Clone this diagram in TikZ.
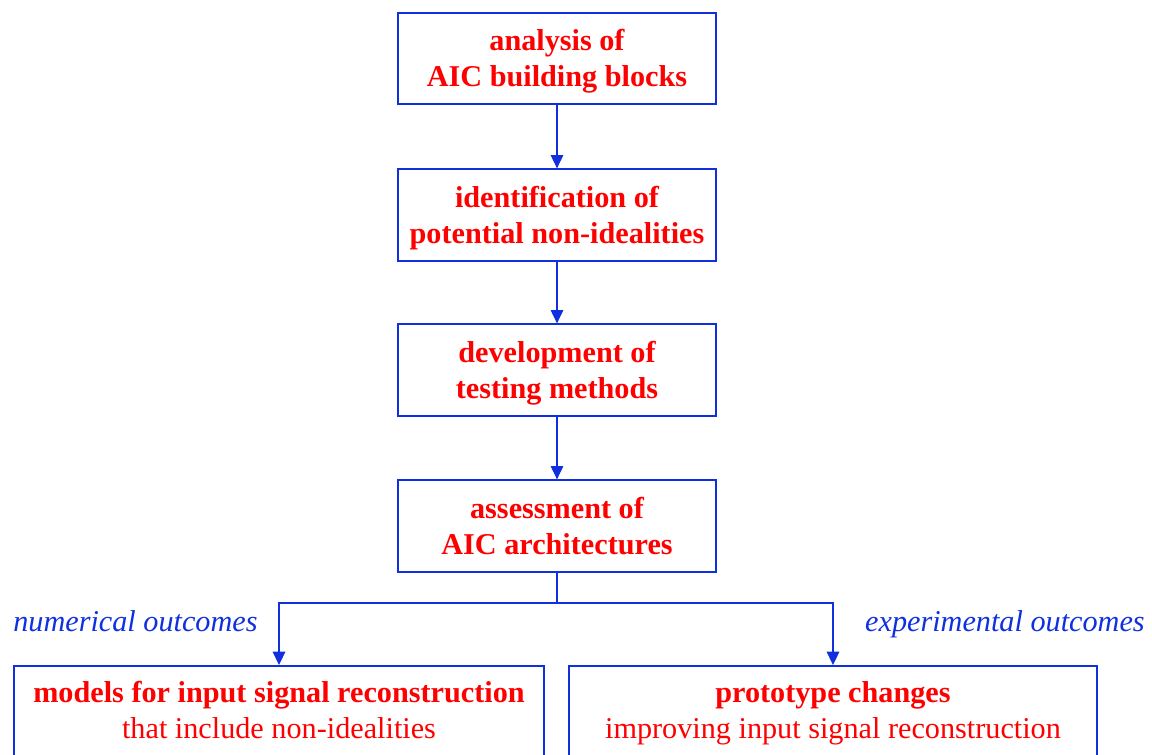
\documentclass[tikz,border=0pt]{standalone}
\usepackage{fontspec}
\setmainfont{Liberation Serif}
\usepackage{tikz}
\usetikzlibrary{arrows.meta}

\definecolor{boxblue}{RGB}{16,48,224}
\definecolor{txtred}{RGB}{255,0,0}
\newcommand\hiStrut{\rule{0pt}{15.5pt}}
\newcommand\loStrut{\rule[-4pt]{0pt}{4pt}}
\newcommand\deepStrut{\rule[-7.8pt]{0pt}{7.8pt}}

\tikzset{
    stepbox/.style={draw=boxblue, line width=1.1pt, text=txtred, align=center,
        font=\fontsize{17.2}{20.4}\selectfont\bfseries,
        minimum width=#1, minimum height=52pt, inner sep=0pt},
    flow/.style={draw=boxblue, line width=0.6pt, -{Triangle[width=7.2pt,length=7.6pt]}},
    outlabel/.style={text=boxblue, font=\fontsize{17.2}{20}\selectfont\itshape}
}

\begin{document}
\begin{tikzpicture}[x=0.02cm, y=-0.02cm]
        \useasboundingbox (0,0) rectangle (1152,754);
        % main chain
        \node[stepbox=181pt] (analysis) at (557,58.5) {\hiStrut analysis of\\AIC building blocks\loStrut};
        \node[stepbox=181pt] (ident) at (557,215) {\hiStrut identification of\\potential non-idealities\loStrut};
        \node[stepbox=181pt] (devel) at (557,370) {\hiStrut development of\\testing methods\loStrut};
        \node[stepbox=181pt] (assess) at (557,526) {\hiStrut assessment of\\AIC architectures\loStrut};
        \draw[flow] (analysis) -- (ident);
        \draw[flow] (ident) -- (devel);
        \draw[flow] (devel) -- (assess);
        % outcomes (boxes run past the lower edge)
        \node[stepbox=301.5pt, minimum height=54pt, anchor=north] (models) at (279,665)
            {\hiStrut models for input signal reconstruction\\\mdseries that include non-idealities\deepStrut};
        \node[stepbox=300.5pt, minimum height=54pt, anchor=north] (proto) at (833,665)
            {\hiStrut prototype changes\\\mdseries improving input signal reconstruction\deepStrut};
        \coordinate (split) at (557,603);
        \draw[boxblue, line width=0.6pt] (assess.south) -- (split);
        \draw[flow] (split) -| (models.north);
        \draw[flow] (split) -| (proto.north);
        \node[outlabel, anchor=base west, inner sep=0pt] (numlab) at (13,631) {numerical outcomes};
        \node[outlabel, anchor=base east, inner sep=0pt] (explab) at (1145,631) {experimental outcomes};
    \end{tikzpicture}
\end{document}
